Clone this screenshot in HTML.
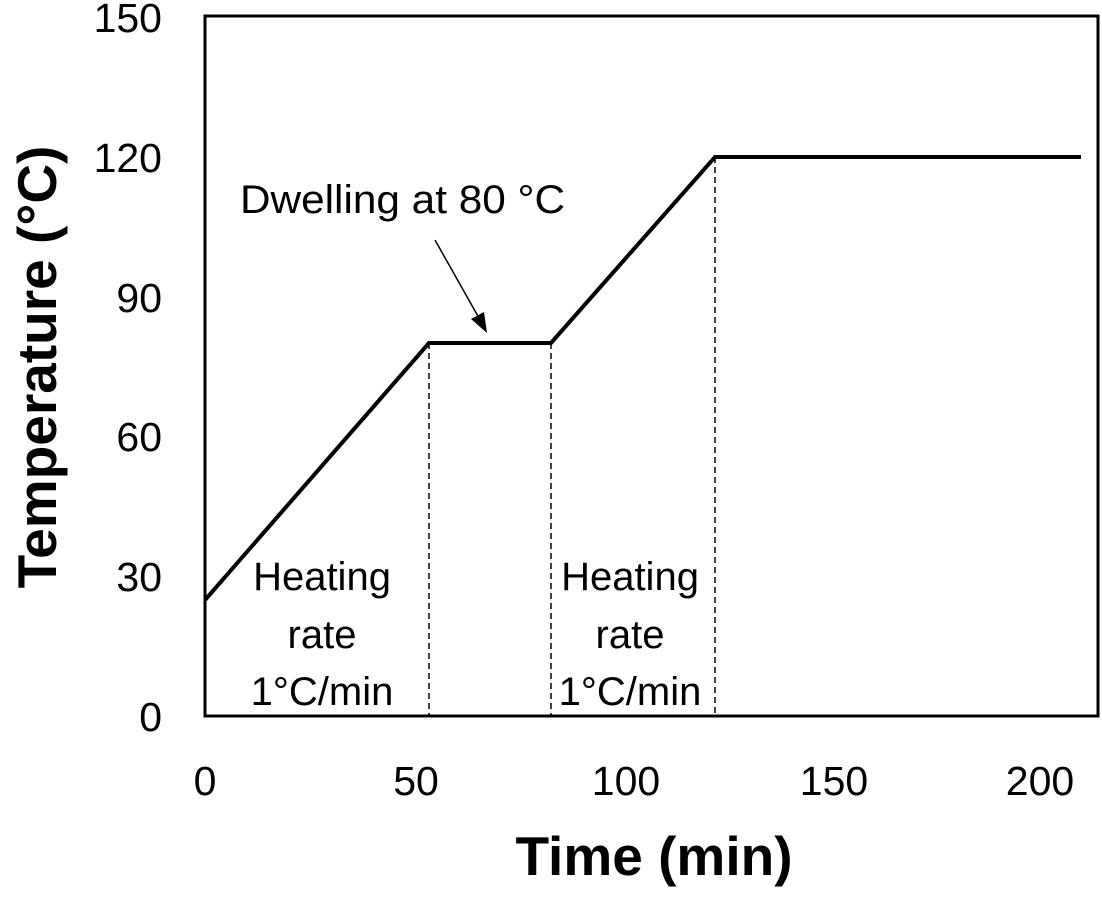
<!DOCTYPE html>
<html><head><meta charset="utf-8"><style>html,body{margin:0;padding:0;background:#fff}</style></head>
<body>
<svg width="1102" height="892" xmlns="http://www.w3.org/2000/svg" font-family="Liberation Sans, sans-serif">
<rect x="205" y="16" width="893" height="700" fill="none" stroke="#000" stroke-width="3"/>
<g stroke="#000" stroke-width="1.5" stroke-dasharray="6,4">
<line x1="429" y1="343" x2="429" y2="716"/>
<line x1="551" y1="343" x2="551" y2="716"/>
<line x1="715" y1="157" x2="715" y2="716"/>
</g>
<polyline points="205,600 429,343 551,343 715,157 1081,157" fill="none" stroke="#000" stroke-width="4"/>
<line x1="435" y1="240" x2="479" y2="318" stroke="#000" stroke-width="1.5"/>
<polygon points="487,333 471,319 484,312" fill="#000"/>
<g font-size="41" text-anchor="end">
<text x="162" y="731">0</text><text x="162" y="591">30</text><text x="162" y="451">60</text>
<text x="162" y="312">90</text><text x="162" y="172">120</text><text x="162" y="32">150</text>
</g>
<g font-size="41" text-anchor="middle">
<text x="205" y="795">0</text><text x="416" y="795">50</text><text x="626" y="795">100</text>
<text x="834" y="795">150</text><text x="1040" y="795">200</text>
</g>
<text x="240" y="213" font-size="40" textLength="325" lengthAdjust="spacingAndGlyphs">Dwelling at 80 °C</text>
<g font-size="40" text-anchor="middle">
<text x="322" y="590">Heating</text><text x="322" y="648">rate</text><text x="322" y="705">1°C/min</text>
<text x="630" y="590">Heating</text><text x="630" y="648">rate</text><text x="630" y="705">1°C/min</text>
</g>
<text x="654" y="875" font-size="55" font-weight="bold" text-anchor="middle">Time (min)</text>
<text transform="translate(56,367) rotate(-90)" font-size="55" font-weight="bold" text-anchor="middle">Temperature (°C)</text>
</svg>
</body></html>
